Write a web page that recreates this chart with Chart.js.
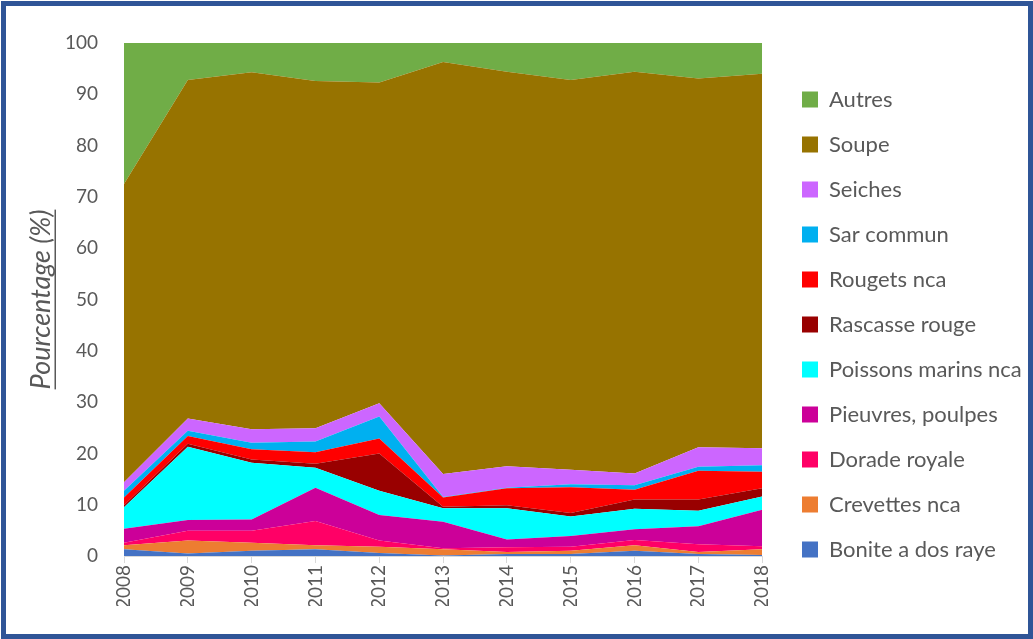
<!DOCTYPE html>
<html>
<head>
<meta charset="utf-8">
<script src="https://cdn.jsdelivr.net/npm/chart.js@4"></script>
<style>
html,body{margin:0;padding:0;background:#fff;}
#wrap{position:relative;width:1033px;height:639px;}
#frame{position:absolute;left:1px;top:1px;width:1022px;height:628px;border:5px solid #2F5597;pointer-events:none;}
canvas{position:absolute;left:0;top:0;}
</style>
</head>
<body>
<div id="wrap"><canvas id="c" width="1033" height="639"></canvas><div id="frame"></div></div>
<script>
const years = ['2008','2009','2010','2011','2012','2013','2014','2015','2016','2017','2018'];
const bonite    = [1.3, 0.5, 1.0, 1.3, 0.6, 0.1, 0.4, 0.4, 1.0, 0.4, 0.2];
const crevettes = [0.8, 2.5, 1.6, 0.8, 1.2, 1.2, 0.4, 0.6, 1.1, 0.4, 1.1];
const dorade    = [0.5, 1.9, 2.3, 4.7, 1.2, 0.2, 0.9, 0.8, 1.0, 1.5, 0.6];
const pieuvres  = [2.7, 2.1, 2.2, 6.5, 5.0, 5.2, 1.5, 2.1, 2.1, 3.5, 7.1];
const poissons  = [4.2, 14.3, 11.1, 3.9, 4.7, 2.6, 6.1, 3.8, 4.0, 3.0, 2.6];
const rascasse  = [0.4, 0.6, 0.6, 0.8, 7.3, 0.3, 0.6, 0.7, 1.8, 2.2, 1.6];
const rougets   = [1.5, 1.5, 2.0, 2.2, 2.9, 1.8, 3.3, 5.0, 1.9, 5.6, 3.2];
const sar       = [1.3, 1.0, 1.3, 2.1, 4.3, 0.1, 0.1, 0.6, 0.9, 0.8, 1.3];
const seiches   = [1.7, 2.4, 2.6, 2.6, 2.6, 4.5, 4.2, 2.8, 2.3, 3.8, 3.3];
const soupe     = [58.1, 66.0, 69.6, 67.7, 62.5, 80.3, 76.9, 76.0, 78.3, 71.9, 73.0];
const autres    = [27.5, 7.2, 5.7, 7.4, 7.7, 3.7, 5.6, 7.2, 5.6, 6.9, 6.0];
const yTicks = [0,10,20,30,40,50,60,70,80,90,100];

const series = [
  ['Bonite a dos raye', bonite, '#4472C4'],
  ['Crevettes nca', crevettes, '#ED7D31'],
  ['Dorade royale', dorade, '#FF0066'],
  ['Pieuvres, poulpes', pieuvres, '#CC0099'],
  ['Poissons marins nca', poissons, '#00FFFF'],
  ['Rascasse rouge', rascasse, '#990000'],
  ['Rougets nca', rougets, '#FF0000'],
  ['Sar commun', sar, '#00B0F0'],
  ['Seiches', seiches, '#CC66FF'],
  ['Soupe', soupe, '#977300'],
  ['Autres', autres, '#70AD47']
];

const FONT = 'Lato, "Open Sans", sans-serif';
const TXT = '#595959';
const LEGEND_BOX_X = 802;

const yTitle = {
  id: 'yTitle',
  afterDraw(chart) {
    const ctx = chart.ctx, a = chart.chartArea;
    const cy = (a.top + a.bottom) / 2, cx = 41;
    ctx.save();
    ctx.translate(cx, cy);
    ctx.rotate(-Math.PI / 2);
    ctx.font = 'italic 27px ' + FONT;
    ctx.fillStyle = TXT;
    ctx.textAlign = 'center';
    ctx.textBaseline = 'middle';
    const t = 'Pourcentage (%)';
    ctx.fillText(t, 0, 0);
    const w = ctx.measureText(t).width;
    ctx.fillRect(-w / 2, 13.5, w, 1.5);
    ctx.restore();
  }
};

const legendShift = {
  id: 'legendShift',
  afterLayout(chart) {
    const l = chart.legend;
    if (!l) return;
    const pad = l.options.labels.padding;
    const dx = LEGEND_BOX_X - (l.left + pad);
    l.left += dx; l.right += dx;
  }
};

new Chart(document.getElementById('c'), {
  type: 'line',
  data: {
    labels: years,
    datasets: series.map((s, i) => ({
      label: s[0], data: s[1], backgroundColor: s[2], borderColor: s[2],
      borderWidth: 0, pointRadius: 0, fill: i === 0 ? 'origin' : '-1', tension: 0
    }))
  },
  options: {
    responsive: false,
    animation: false,
    layout: { padding: { left: 0, top: 43, right: 18, bottom: 33 } },
    plugins: {
      tooltip: { enabled: false },
      legend: {
        position: 'right',
        reverse: true,
        align: 'center',
        labels: {
          boxWidth: 16, boxHeight: 16, padding: 23, color: TXT,
          font: { family: FONT, size: 22 }
        }
      }
    },
    scales: {
      x: {
        offset: false,
        grid: { display: true, drawOnChartArea: false, color: '#D9D9D9', tickLength: 7 },
        border: { color: '#D9D9D9' },
        ticks: { color: TXT, font: { family: FONT, size: 19 }, minRotation: 90, maxRotation: 90, padding: 2 },
        afterFit(s) { s.height = 50; }
      },
      y: {
        stacked: true, min: 0, max: 100,
        grid: { display: false },
        border: { display: false },
        afterBuildTicks(s) { s.ticks = yTicks.map(v => ({ value: v })); },
        ticks: { color: TXT, font: { family: FONT, size: 19 }, padding: 18 },
        afterFit(s) { s.width = 124; }
      }
    }
  },
  plugins: [yTitle, legendShift]
});
</script>
</body>
</html>
